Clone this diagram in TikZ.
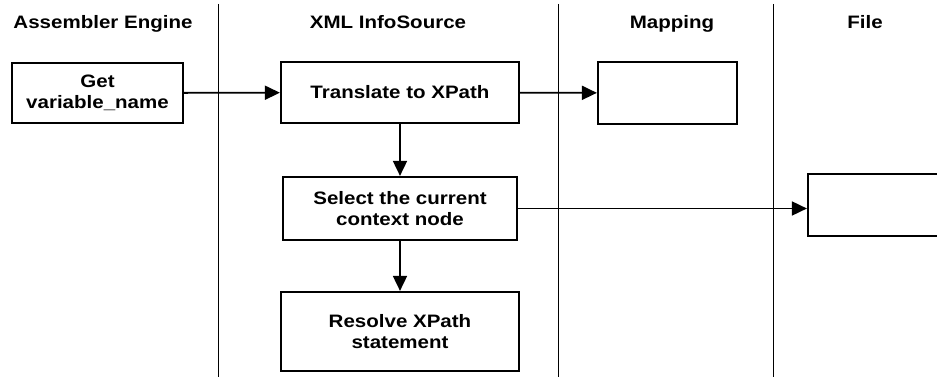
\documentclass[tikz,border=0pt]{standalone}
\usepackage{fontspec}
\setmainfont{Liberation Sans}[FakeStretch=1.14]
\usetikzlibrary{arrows.meta,positioning}

\begin{document}
\begin{tikzpicture}[x=1pt,y=-1pt,>={Triangle[length=15pt,width=14pt]},line width=1.8pt,
	box/.style={draw,line width=2.2pt,align=center,inner sep=0pt,font=\bfseries\fontsize{18}{21.5}\selectfont},
	head/.style={anchor=base,font=\bfseries\fontsize{18}{21.5}\selectfont},
	lane/.style={line width=1pt}]

\clip (0,0) rectangle (937,377);

% swimlanes
\draw[lane] (218,4) -- (218,377);
\draw[lane] (558,4) -- (558,377);
\draw[lane] (773,4) -- (773,377);

\node[head] (hAsm)  at (103,28.5) {Assembler Engine};
\node[head] (hXml)  at (388,28.5) {XML InfoSource};
\node[head] (hMap)  at (672,28.5) {Mapping};
\node[head] (hFile) at (865,28.5) {File};

\node[box,minimum width=171pt,minimum height=60pt]   (get)       at (97.5,93)    {Get\\variable\_name};
\node[box,minimum width=238pt,minimum height=61pt]   (translate) at (400,92.5)   {Translate to XPath};
\node[box,minimum width=139pt,minimum height=62pt]   (map)       at (667.5,93)   {};
\node[box,minimum width=234pt,minimum height=63pt]   (select)    at (400,208.5)  {Select the current\\context node};
\node[box,minimum width=238pt,minimum height=79pt]   (resolve)   at (400,331.5)  {Resolve XPath\\statement};
\node[box,minimum width=139pt,minimum height=62pt]   (file)      at (877.5,205)  {};

\path[->] (get)		edge	(translate)
	(translate)	edge	(map)
	(translate)	edge	(select)
	(select)	edge	(resolve)
	(select.east)	edge	(select.east -| file.west);

\end{tikzpicture}
\end{document}
